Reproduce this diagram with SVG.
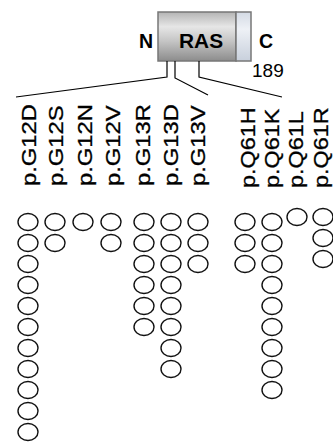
<svg xmlns="http://www.w3.org/2000/svg" width="333" height="443" viewBox="0 0 333 443">
  <style>
    .lbl { font-family: "Liberation Sans", Arial, sans-serif; font-size: 19.5px; fill: #000; }
    .bold { font-weight: bold; }
    .mut { stroke: #000; stroke-width: 0.3; }
    .conn { fill: none; stroke: #000; stroke-width: 1.2; }
    .dot { fill: #fff; stroke: #111; stroke-width: 1.4; }
  </style>
  <defs>
    <linearGradient id="body" x1="0" y1="0" x2="0" y2="1">
      <stop offset="0" stop-color="#b4b4b4"/>
      <stop offset="0.3" stop-color="#e6e6e6"/>
      <stop offset="0.6" stop-color="#c4c4c4"/>
      <stop offset="1" stop-color="#8c8c8c"/>
    </linearGradient>
    <linearGradient id="tail" x1="0" y1="0" x2="0" y2="1">
      <stop offset="0" stop-color="#d4dae4"/>
      <stop offset="0.35" stop-color="#eef1f6"/>
      <stop offset="1" stop-color="#c8d0dc"/>
    </linearGradient>
    <ellipse id="c" rx="10" ry="8.5" class="dot"/>
  </defs>

  <!-- protein bar -->
  <g id="ras">
    <rect x="158" y="12" width="78" height="49" fill="url(#body)" stroke="#777" stroke-width="1.5"/>
    <rect x="236" y="12" width="15" height="49" fill="url(#tail)" stroke="#777" stroke-width="1.5"/>
    <text class="lbl bold" transform="translate(179,47.5) scale(1.07,1)">RAS</text>
    <text class="lbl bold" x="139" y="47.5">N</text>
    <text class="lbl bold" x="259" y="47.5">C</text>
    <text class="lbl" x="252" y="77" style="font-size:19px">189</text>
  </g>

  <!-- connectors from codon positions to label groups -->
  <g id="connectors">
    <polyline class="conn" points="167,61 167,77 16,97"/>
    <polyline class="conn" points="175,61 175,78 208,95"/>
    <polyline class="conn" points="199,61 199,77 282,97"/>
  </g>

  <!-- mutation labels, stretched along the reading direction -->
  <g id="labels">
    <text class="lbl mut" transform="translate(36,186) rotate(-90) scale(1.22,1)">p.G12D</text>
    <text class="lbl mut" transform="translate(63,186) rotate(-90) scale(1.22,1)">p.G12S</text>
    <text class="lbl mut" transform="translate(92,186) rotate(-90) scale(1.22,1)">p.G12N</text>
    <text class="lbl mut" transform="translate(120,186) rotate(-90) scale(1.22,1)">p.G12V</text>
    <text class="lbl mut" transform="translate(150,186) rotate(-90) scale(1.22,1)">p.G13R</text>
    <text class="lbl mut" transform="translate(178,186) rotate(-90) scale(1.22,1)">p.G13D</text>
    <text class="lbl mut" transform="translate(205,186) rotate(-90) scale(1.22,1)">p.G13V</text>
    <text class="lbl mut" transform="translate(255,188) rotate(-90) scale(1.2,1)">p.Q61H</text>
    <text class="lbl mut" transform="translate(279,188) rotate(-90) scale(1.2,1)">p.Q61K</text>
    <text class="lbl mut" transform="translate(303,188) rotate(-90) scale(1.2,1)">p.Q61L</text>
    <text class="lbl mut" transform="translate(328,188) rotate(-90) scale(1.2,1)">p.Q61R</text>
  </g>

  <!-- case counts, one circle per case -->
  <g id="g12d">
    <use href="#c" x="28" y="222"/><use href="#c" x="28" y="243"/><use href="#c" x="28" y="264"/>
    <use href="#c" x="28" y="285"/><use href="#c" x="28" y="306"/><use href="#c" x="28" y="327"/>
    <use href="#c" x="28" y="348"/><use href="#c" x="28" y="369"/><use href="#c" x="28" y="390"/>
    <use href="#c" x="28" y="411"/><use href="#c" x="28" y="432"/>
  </g>
  <g id="g12s">
    <use href="#c" x="55" y="222"/><use href="#c" x="55" y="243"/>
  </g>
  <g id="g12n">
    <use href="#c" x="83" y="222"/>
  </g>
  <g id="g12v">
    <use href="#c" x="111" y="222"/><use href="#c" x="111" y="243"/>
  </g>
  <g id="g13r">
    <use href="#c" x="144" y="222"/><use href="#c" x="144" y="243"/><use href="#c" x="144" y="264"/>
    <use href="#c" x="144" y="285"/><use href="#c" x="144" y="306"/><use href="#c" x="144" y="327"/>
  </g>
  <g id="g13d">
    <use href="#c" x="171" y="222"/><use href="#c" x="171" y="243"/><use href="#c" x="171" y="264"/>
    <use href="#c" x="171" y="285"/><use href="#c" x="171" y="306"/><use href="#c" x="171" y="327"/>
    <use href="#c" x="171" y="348"/><use href="#c" x="171" y="369"/>
  </g>
  <g id="g13v">
    <use href="#c" x="198" y="222"/><use href="#c" x="198" y="243"/><use href="#c" x="198" y="264"/>
  </g>
  <g id="q61h">
    <use href="#c" x="245" y="222"/><use href="#c" x="245" y="243"/><use href="#c" x="245" y="264"/>
  </g>
  <g id="q61k">
    <use href="#c" x="272" y="222"/><use href="#c" x="272" y="243"/><use href="#c" x="272" y="264"/>
    <use href="#c" x="272" y="285"/><use href="#c" x="272" y="306"/><use href="#c" x="272" y="327"/>
    <use href="#c" x="272" y="348"/><use href="#c" x="272" y="369"/><use href="#c" x="272" y="390"/>
  </g>
  <g id="q61l">
    <use href="#c" x="297" y="217"/>
  </g>
  <g id="q61r">
    <use href="#c" x="323" y="217"/><use href="#c" x="323" y="238"/><use href="#c" x="323" y="259"/>
  </g>
</svg>
